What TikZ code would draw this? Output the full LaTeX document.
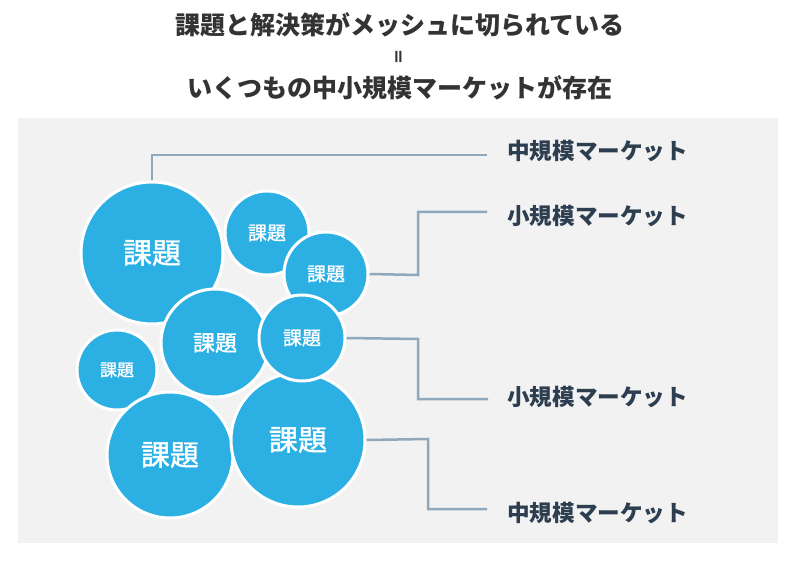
\documentclass[tikz,border=0pt]{standalone}
\usepackage{fontspec}
\newfontfamily\jp{Noto Sans CJK JP}
\newfontfamily\jpm[FakeBold=1.3]{Noto Sans CJK JP}
\newfontfamily\dvs{DejaVu Sans}
\definecolor{bgray}{HTML}{F2F2F2}
\definecolor{cblue}{HTML}{2CB0E4}
\definecolor{lgray}{HTML}{8FA8BC}
\definecolor{navy}{HTML}{2D3E50}
\definecolor{ttl}{HTML}{333333}
\tikzset{
  bubble/.style={circle, fill=cblue, draw=white, line width=3pt, inner sep=0pt, text=white},
  conn/.style={draw=lgray, line width=2.5pt},
  mkt/.style={anchor=west, text=navy, font=\jp\bfseries\fontsize{22.6}{25}\selectfont, inner sep=0pt},
  ttlstyle/.style={text=ttl, font=\jp\bfseries\fontsize{25}{28}\selectfont, inner sep=0pt}
}
\begin{document}
\begin{tikzpicture}[x=1pt,y=-1pt]
\useasboundingbox (0,0) rectangle (800,561);
\fill[white] (0,0) rectangle (800,561);
\fill[bgray] (18,118) rectangle (778,543);
\node[ttlstyle] (t1) at (400,25) {課題と解決策がメッシュに切られている};
\node[ttlstyle, rotate=90, font=\dvs\bfseries\fontsize{18}{19}\selectfont] (t2) at (400,57) {=};
\node[ttlstyle] (t3) at (400,88) {いくつもの中小規模マーケットが存在};
\coordinate (j1) at (152,155);
\coordinate (j2a) at (418,275);
\coordinate (j2b) at (418,212);
\coordinate (j3a) at (418,339);
\coordinate (j3b) at (418,399);
\coordinate (j4a) at (428,439);
\coordinate (j4b) at (428,509);
\coordinate (e1) at (487,155);
\coordinate (e2) at (487,212);
\coordinate (e3) at (488,399);
\coordinate (e4) at (487,509);
% circles
\node[bubble, minimum size=142pt, font=\jpm\fontsize{29}{32}\selectfont] (c1) at (152,253) {課題};
\node[bubble, minimum size=84pt, font=\jpm\fontsize{19}{22}\selectfont] (c2) at (267,233) {課題};
\node[bubble, minimum size=84pt, font=\jpm\fontsize{19}{22}\selectfont] (c3) at (326,274) {課題};
\node[bubble, minimum size=108pt, font=\jpm\fontsize{22}{25}\selectfont] (c4) at (215,343) {課題};
\node[bubble, minimum size=80pt, font=\jpm\fontsize{17}{20}\selectfont] (c6) at (117,370) {課題};
\node[bubble, minimum size=126pt, font=\jpm\fontsize{29}{32}\selectfont] (c7) at (170,455) {課題};
\node[bubble, minimum size=134pt, font=\jpm\fontsize{29}{32}\selectfont] (c8) at (298,440) {課題};
\node[bubble, minimum size=86pt, font=\jpm\fontsize{19}{22}\selectfont] (c5) at (302,338) {課題};
\draw[conn] (c1.north) -- (j1) -- (e1);
\draw[conn] (c3.east) -- (j2a) -- (j2b) -- (e2);
\draw[conn] (c5.east) -- (j3a) -- (j3b) -- (e3);
\draw[conn] (c8.east) -- (j4a) -- (j4b) -- (e4);
\node[mkt] (m1) at (507,151) {中規模マーケット};
\node[mkt] (m2) at (507,216) {小規模マーケット};
\node[mkt] (m3) at (507,397) {小規模マーケット};
\node[mkt] (m4) at (507,513) {中規模マーケット};
\end{tikzpicture}
\end{document}
